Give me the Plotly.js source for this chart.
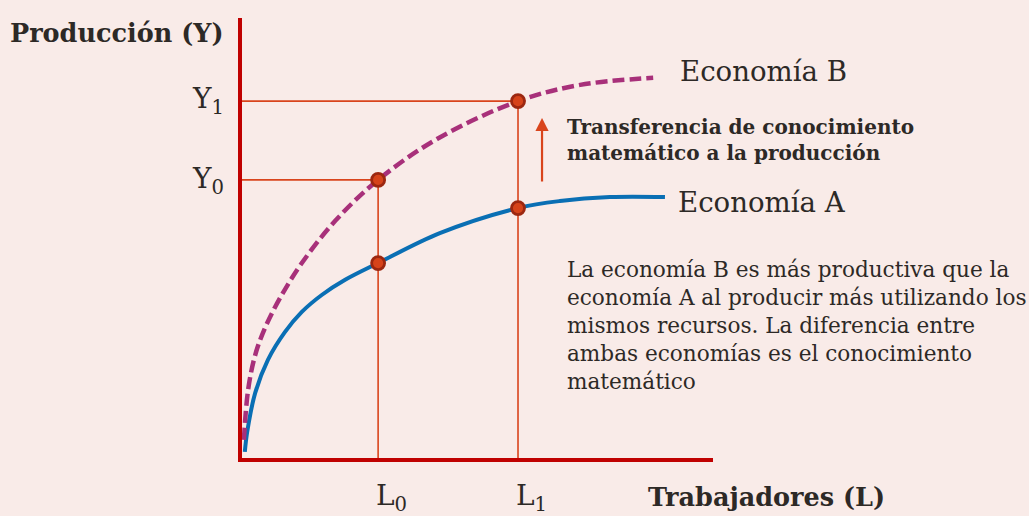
<!DOCTYPE html>
<html>
<head>
<meta charset="utf-8">
<script src="https://cdn.plot.ly/plotly-3.0.1.min.js"></script>
<style>
html,body{margin:0;padding:0;background:#f9ebe8;}
#chart{width:1029px;height:516px;}
</style>
</head>
<body>
<div id="chart"></div>
<script>
// Curve A (Economía A) — trabajadores vs producción
const laborA = [0.6, 1.1, 2.8, 5.5, 9.1, 12.7, 17.0, 21.9, 28.9, 42.0, 58.6, 67.5, 78.1, 89.8];
const outputA = [1.4, 5.9, 14.8, 22.3, 28.6, 33.2, 37.1, 40.5, 44.3, 51.1, 56.8, 58.4, 59.3, 59.3];
// Curve B (Economía B)
const laborB = [0.4, 1.3, 2.8, 4.9, 8.1, 12.7, 19.8, 28.9, 41.4, 58.6, 71.8, 87.3];
const outputB = [4.1, 15.5, 23.4, 29.6, 36.4, 44.3, 53.9, 63.2, 72.5, 81.1, 84.8, 86.4];
// Reference levels
const L0 = 28.9, L1 = 58.6;
const Y0 = 63.2, Y1 = 81.1;
const yA0 = 44.3, yA1 = 56.8;
const tickLabels = {L0: 'L<sub>0</sub>', L1: 'L<sub>1</sub>', Y0: 'Y<sub>0</sub>', Y1: 'Y<sub>1</sub>'};
const arrowX = 63.7, arrowFrom = 62.5, arrowTo = 77.3;

const ink = '#2d2926';
const guide = '#d9441c';
const serif = 'DejaVu Serif, serif';

const traces = [
  { // guide lines
    x: [0, L0, null, L0, L0, null, 0, L1, null, L1, L1],
    y: [Y0, Y0, null, 0, Y0, null, Y1, Y1, null, 0, Y1],
    mode: 'lines', line: {color: guide, width: 1.6}, hoverinfo: 'skip', showlegend: false
  },
  {
    x: laborA, y: outputA, mode: 'lines', line: {color: '#0a6fb4', width: 4, shape: 'spline', smoothing: 1},
    showlegend: false, hoverinfo: 'skip'
  },
  {
    x: laborB, y: outputB, mode: 'lines', line: {color: '#a8307a', width: 4.5, dash: '12px,5px', shape: 'spline', smoothing: 1},
    showlegend: false, hoverinfo: 'skip'
  },
  {
    x: [L0, L1, L0, L1], y: [yA0, yA1, Y0, Y1], mode: 'markers',
    marker: {size: 13, color: '#d6431a', line: {color: '#9c2710', width: 2.8}},
    showlegend: false, hoverinfo: 'skip', cliponaxis: false
  }
];

// pixel -> paper helpers for text placement
const pxX = p => (p - 242) / 471;
const pxY = p => (458 - p) / 440;

function label(xp, yp, text, size, anchor, extra) {
  return Object.assign({xref: 'paper', yref: 'paper', x: pxX(xp), y: pxY(yp), xanchor: anchor || 'left',
    yanchor: 'middle', text: text, showarrow: false, align: 'left',
    font: {family: serif, size: size, color: ink}}, extra || {});
}

const annotations = [
  label(8, 33, '<b>Producción (Y)</b>', 25.5),
  label(226, 101, tickLabels.Y1, 28, 'right'),
  label(226, 180, tickLabels.Y0, 28, 'right'),
  label(374, 498, tickLabels.L0, 28),
  label(514, 498, tickLabels.L1, 28),
  label(646, 497, '<b>Trabajadores (L)</b>', 25.5),
  label(678, 72, 'Economía B', 27.6),
  label(676, 202, 'Economía A', 27.6),
  label(565, 139.5, '<b>Transferencia de conocimiento<br>matemático a la producción</b>', 20),
  label(565, 325, 'La economía B es más productiva que la<br>economía A al producir más utilizando los<br>mismos recursos. La diferencia entre<br>ambas economías es el conocimiento<br>matemático', 21.6),
  {x: arrowX, y: arrowTo, ax: arrowX, ay: arrowFrom, axref: 'x', ayref: 'y', xref: 'x', yref: 'y', text: '', showarrow: true,
   arrowhead: 2, arrowsize: 1.2, arrowwidth: 2.2, arrowcolor: guide}
];

const layout = {
  width: 1029, height: 516,
  paper_bgcolor: '#f9ebe8', plot_bgcolor: '#f9ebe8',
  margin: {l: 242, r: 316, t: 18, b: 58},
  xaxis: {range: [0, 100], showgrid: false, zeroline: false, showticklabels: false, ticks: '',
          showline: true, linecolor: '#c00000', linewidth: 4, fixedrange: true},
  yaxis: {range: [0, 100], showgrid: false, zeroline: false, showticklabels: false, ticks: '',
          showline: true, linecolor: '#c00000', linewidth: 4, fixedrange: true},
  annotations: annotations,
  showlegend: false
};

Plotly.newPlot('chart', traces, layout, {displayModeBar: false, staticPlot: true});
</script>
</body>
</html>
